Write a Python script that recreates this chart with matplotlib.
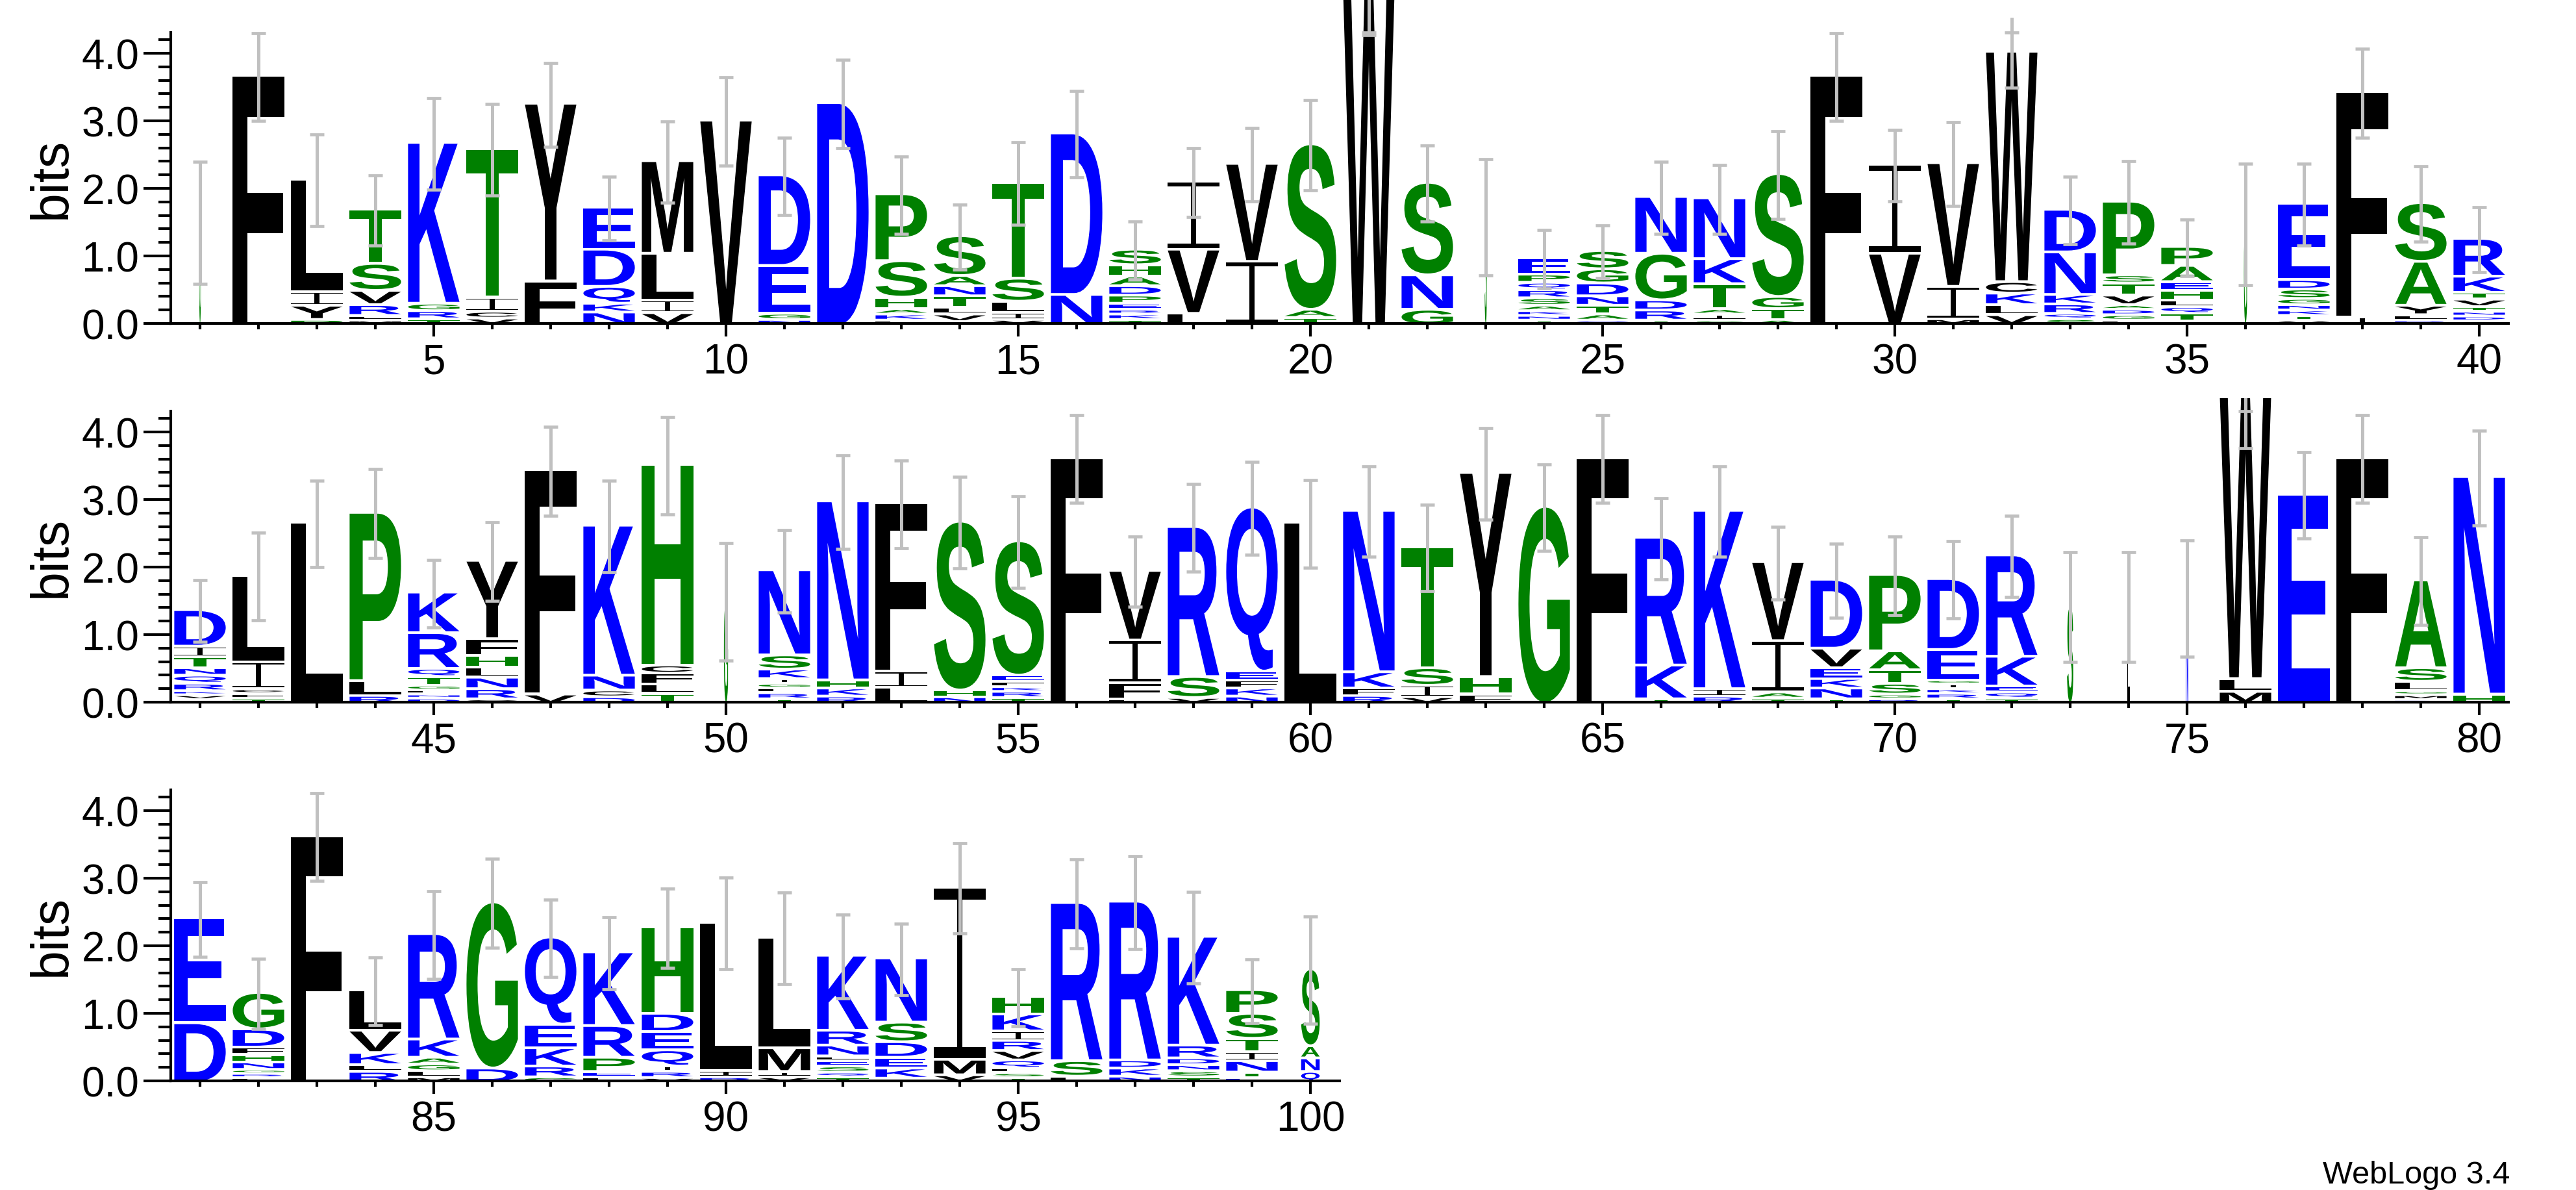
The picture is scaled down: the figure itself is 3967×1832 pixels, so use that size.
import matplotlib
matplotlib.use("Agg")
import matplotlib.pyplot as plt
from matplotlib.textpath import TextPath
from matplotlib.path import Path
from matplotlib.patches import PathPatch
from matplotlib.font_manager import FontProperties
from matplotlib.transforms import Affine2D, Bbox, blended_transform_factory
from matplotlib.ticker import MultipleLocator, FixedLocator, FormatStrFormatter

plt.rcParams["font.family"] = ["Liberation Sans", "DejaVu Sans"]

stacks_1_40 = [
    "G1.49", "F3.65", "P.04 Y.17 I.16 L1.63", "M.03 L.03 R.12 V.17 S.36 T.76",
    "T.05 R.08 G.07 K2.34", "V.06 C.06 I.17 T2.16", "F.61 Y2.59",
    "N.15 K.09 Q.21 D.51 E.58", "V.14 I.15 L.65 M1.33", "V2.99",
    "N.04 G.05 E.67 D1.30", "D3.25", "L.03 K.05 A.04 H.13 S.50 P.95",
    "Q.01 V.07 L.06 T.13 N.11 A.11 S.55", "V.04 I.06 L.13 S.30 T1.38", "N.41 D2.35",
    "T.04 K.04 R.03 E.05 P.08 D.10 A.10 H.13 S.19", "L.13 V.91 I.97", "I.90 V1.41",
    "T.07 A.08 S2.41", "W4.92", "G.19 N.47 S1.33", "S1.57",
    "T.03 N.03 K.03 A.04 S.07 R.08 Q.07 P.08 E.20",
    "Q.03 A.05 T.09 N.10 D.15 G.17 S.23", "T.03 R.11 D.11 G.65 N.80",
    "S.03 I.05 A.04 T.33 K.33 N.86", "A.04 T.12 G.14 S1.78", "F3.65", "V1.02 I1.28",
    "M.05 I.44 V1.79", "V.11 L.11 K.13 C.13 W3.37", "S.05 Q.04 R.10 K.10 N.59 D.59",
    "L.03 G.04 D.04 A.03 V.10 T.14 S.08 P1.05", "I.02 T.07 Q.06 L.06 H.10 E.09 A.20 P.24",
    "G1.47", "V.03 T.03 K.04 N.04 G.05 S.10 D.10 E1.09", "I.08 F3.29",
    "R.03 L.04 Y.10 A.61 S.83", "G.02 D.03 N.03 T.03 V.07 T.06 K.20 R.52",
]
errors_1_40 = [0.90, 0.65, 0.68, 0.52, 0.68, 0.68, 0.62, 0.47, 0.60, 0.65,
               0.57, 0.65, 0.57, 0.48, 0.61, 0.64, 0.43, 0.51, 0.54, 0.67,
               0.65, 0.56, 0.86, 0.43, 0.39, 0.53, 0.51, 0.65, 0.65, 0.53,
               0.62, 0.52, 0.50, 0.61, 0.42, 0.90, 0.61, 0.66, 0.56, 0.48]

stacks_41_80 = [
    "I.02 V.03 K.02 R.07 Q.08 N.07 T.12 I.12 D.50", "T.04 F.03 C.03 I.36 L1.24", "L2.64",
    "R.08 L.18 P2.45", "D.04 N.02 L.02 G.03 T.09 Q.08 R.49 K.56",
    "C.03 R.11 N.13 L.11 H.13 F.21 Y1.12", "V.10 F3.28", "D.06 C.06 N.18 K2.18",
    "T.11 L.10 F.12 C.08 H2.93", "G1.49", "T.03 R.05 L.03 G.03 I.03 K.10 S.17 N1.22",
    "R.07 K.08 H.08 N2.61", "L.20 I.20 F2.45", "N.06 H.06 S2.46",
    "T.05 R.05 K.03 F.04 E.05 S1.95", "F3.60", "L.03 F.20 I.59 V.99", "V.05 S.27 R2.18",
    "N.07 K.08 F.08 E.09 Q2.39", "L2.64", "R.08 F.07 K.20 N2.35", "V.06 I.13 S.22 T1.75",
    "F.10 H.22 Y2.98", "G2.88", "F3.60", "T.03 K.46 R1.85", "R.07 I.07 K2.60",
    "T.04 A.05 I.72 V1.13", "T.03 N.12 K.10 E.12 V.25 D.98", "R.03 G.03 S.12 T.16 A.24 P1.09",
    "T.03 R.04 K.03 I.03 G.02 E.41 D1.01", "T.04 Q.05 E.05 K.40 R1.46", "S1.41", "L1.41",
    "N1.53", "M.14 L.15 W4.18", "E3.06", "F3.60", "D.02 M.03 G.02 L.10 S.16 A1.26",
    "H.10 N3.18",
]
errors_41_80 = [0.46, 0.65, 0.64, 0.66, 0.50, 0.58, 0.66, 0.68, 0.72, 0.87,
                0.61, 0.69, 0.65, 0.68, 0.68, 0.65, 0.52, 0.65, 0.69, 0.65,
                0.67, 0.64, 0.68, 0.64, 0.65, 0.60, 0.67, 0.54, 0.55, 0.58,
                0.57, 0.60, 0.81, 0.81, 0.86, 0.79, 0.64, 0.65, 0.65, 0.70]

stacks_81_100 = [
    "D.84 E1.51", "L.03 R.02 G.02 N.07 H.07 F.07 D.23 G.50", "F3.61",
    "R.12 L.06 K.14 V.29 L.56", "M.04 L.05 G.06 A.06 K.23 R1.52", "D.17 G2.42",
    "G.04 R.12 K.23 E.31 Q1.25", "L.04 E.04 P.17 R.43 K1.05",
    "V.03 R.05 I.04 Q.20 E.23 D.23 H1.24", "R.04 I.05 L2.16", "V.04 I.04 M.31 L1.60",
    "T.04 Q.03 S.05 E.04 L.03 N.12 R.18 K1.07", "I.02 K.11 E.12 D.19 S.25 N.91",
    "V.07 M.19 I2.51", "T.03 S.03 L.03 Q.08 V.10 R.11 I.10 K.21 H.22", "L.05 S.19 R2.30",
    "N.05 K.08 D.08 R2.31", "T.04 S.05 N.05 D.06 R.15 K1.57",
    "E.03 T.04 N.13 I.09 T.16 S.33 P.31", "Q.12 N.16 A.14 S1.10",
]
errors_81_100 = [0.55, 0.52, 0.65, 0.50, 0.65, 0.66, 0.57, 0.53, 0.59, 0.68,
                 0.68, 0.62, 0.53, 0.67, 0.42, 0.66, 0.69, 0.68, 0.47, 0.79]

# columns drawn narrow (few sequences present there)
narrow_pos = [1, 23, 36, 50, 73, 74, 75, 100]
narrow_frac = [0.03, 0.04, 0.06, 0.08, 0.12, 0.06, 0.045, 0.36]

MAX_BITS = 4.32
GAP = 0.04
LETTER_W = 0.88
GREY = "#c0c0c0"
colors = {}
for c in "RKDENQ":
    colors[c] = "#0000ff"
for c in "SGHTAP":
    colors[c] = "#008000"
for c in "YVMCLFIW":
    colors[c] = "#000000"

letter_font = FontProperties(family="Liberation Sans", weight="bold")
_glyphs = {}


def serif_i():
    # WebLogo's I: thin stem with full-width bars at top and bottom
    t, s = 0.065, 0.045
    pts = [(0, 0), (1, 0), (1, t), (0.5 + s, t), (0.5 + s, 1 - t), (1, 1 - t),
           (1, 1), (0, 1), (0, 1 - t), (0.5 - s, 1 - t), (0.5 - s, t), (0, t), (0, 0)]
    codes = [Path.MOVETO] + [Path.LINETO] * (len(pts) - 2) + [Path.CLOSEPOLY]
    return Path(pts, codes)


def glyph(ch):
    if ch not in _glyphs:
        if ch == "I":
            p = serif_i()
            _glyphs[ch] = (p, Bbox([[0, 0], [1, 1]]))
        else:
            p = TextPath((0, 0), ch, size=1, prop=letter_font)
            _glyphs[ch] = (p, p.get_extents())
    return _glyphs[ch]


def draw_letter(ax, ch, x, y0, w, h):
    p, bb = glyph(ch)
    t = (Affine2D().translate(-bb.x0, -bb.y0)
         .scale(w / bb.width, h / bb.height)
         .translate(x - w / 2, y0))
    ax.add_patch(PathPatch(t.transform_path(p), facecolor=colors[ch],
                           edgecolor="none", lw=0, zorder=2))


fig = plt.figure(figsize=(39.67, 18.33), dpi=100)
W, H = 3967.0, 1833.0
left = 263 / W
rows = [
    (1, stacks_1_40, errors_1_40, 499, 4.80),
    (41, stacks_41_80, errors_41_80, 1082, 4.50),
    (81, stacks_81_100, errors_81_100, 1665, 4.50),
]
px_per_bit = 104.0
px_per_pos = 90.0

for first, stacks, errs, base_px, ytop in rows:
    n = len(stacks)
    ax = fig.add_axes([left, (H - base_px) / H, n * px_per_pos / W, ytop * px_per_bit / H])
    for i, (col, err) in enumerate(zip(stacks, errs)):
        pos = first + i
        w = LETTER_W
        if pos in narrow_pos:
            w = LETTER_W * narrow_frac[narrow_pos.index(pos)]
        y = 0.0
        for k, item in enumerate(col.split()):
            ch, h = item[0], float(item[1:])
            if k:
                y += GAP
            draw_letter(ax, ch, pos, y, w, h)
            y += h
        lo, hi = y - err, y + err
        ax.vlines(pos, lo, hi, color=GREY, lw=3.6, zorder=4)
        ax.hlines([lo, min(hi, MAX_BITS - 0.01)], pos - 0.12, pos + 0.12,
                  color=GREY, lw=3.4, zorder=4)

    ax.set_xlim(first - 0.5, first + n - 0.5)
    ax.set_ylim(0, ytop)
    for s in ("top", "right"):
        ax.spines[s].set_visible(False)
    ax.spines["left"].set_bounds(0, 4.31)
    ax.spines["left"].set_linewidth(3)
    ax.spines["bottom"].set_linewidth(3)

    ax.yaxis.set_major_locator(FixedLocator([0, 1, 2, 3, 4]))
    ax.yaxis.set_minor_locator(FixedLocator([i * 0.2 for i in range(22) if i % 5]))
    ax.yaxis.set_major_formatter(FormatStrFormatter("%.1f"))
    ax.xaxis.set_major_locator(MultipleLocator(5))
    ax.xaxis.set_minor_locator(MultipleLocator(1))
    ax.tick_params(axis="y", which="major", length=30, width=3, labelsize=46, pad=5)
    ax.tick_params(axis="y", which="minor", length=14, width=3)
    ax.tick_params(axis="x", which="major", length=14.5, width=3, labelsize=46, pad=7)
    ax.tick_params(axis="x", which="minor", length=6.5, width=3)

    tr = blended_transform_factory(fig.transFigure, ax.transData)
    ax.text(80 / W, 4.31 / 2, "bits", transform=tr, rotation=90,
            ha="center", va="center", fontsize=58)

fig.text(3865 / W, 11 / H, "WebLogo 3.4", ha="right", va="baseline", fontsize=35)

fig.savefig("out.png", dpi=100)
